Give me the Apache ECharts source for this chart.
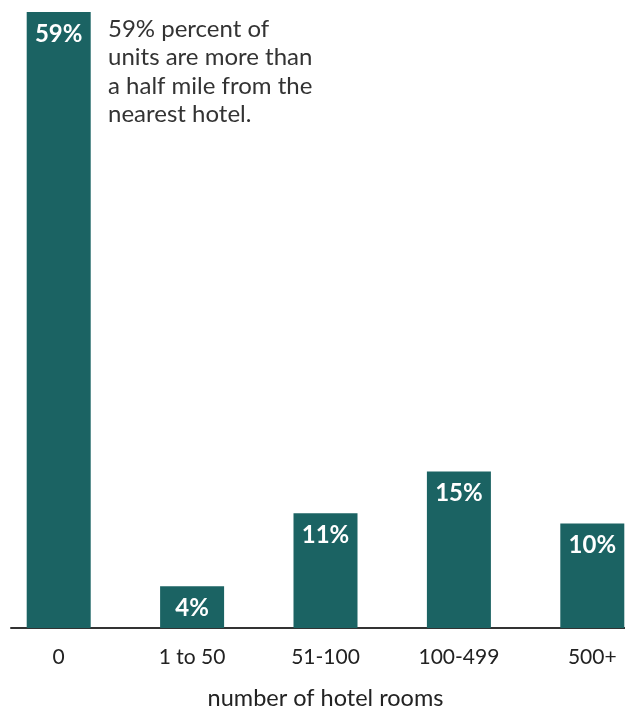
<!DOCTYPE html>
<html><head><meta charset="utf-8">
<script src="https://cdn.jsdelivr.net/npm/echarts@6/dist/echarts.min.js"></script>
<style>html,body{margin:0;padding:0;background:#fff;overflow:hidden;width:625px;height:708px}#c{position:absolute;left:-8px;top:0;width:667px;height:708px}</style>
</head><body><div id="c"></div>
<script>
const categories = ['0', '1 to 50', '51-100', '100-499', '500+'];
const shares = [59, 4, 11, 15, 10];
const axisTitle = 'number of hotel rooms';
const noteLines = ['59% percent of', 'units are more than', 'a half mile from the', 'nearest hotel.'];

const chart = echarts.init(document.getElementById('c'));
chart.setOption({
  animation: false,
  grid: [
    {left: 0, right: 0, top: 12, bottom: 80, containLabel: false, outerBoundsMode: 'none'},
    {left: 19, right: 34, top: 12, bottom: 80, containLabel: false, outerBoundsMode: 'none'}
  ],
  xAxis: [
    {type: 'category', data: categories, gridIndex: 0,
     axisLine: {show: false}, axisTick: {show: false},
     axisLabel: {color: '#222', fontFamily: 'Lato', fontSize: 21, margin: 19},
     name: axisTitle, nameLocation: 'middle', nameGap: 58,
     nameTextStyle: {color: '#222', fontFamily: 'Lato', fontSize: 23.5}},
    {type: 'value', gridIndex: 1, min: 0, max: 1,
     axisLine: {show: true, lineStyle: {color: '#333', width: 2}},
     axisTick: {show: false}, axisLabel: {show: false}, splitLine: {show: false}}
  ],
  yAxis: [
    {type: 'value', gridIndex: 0, min: 0, max: 59, show: false},
    {type: 'value', gridIndex: 1, min: 0, max: 1, show: false}
  ],
  series: [{
    type: 'bar', data: shares, barWidth: 64,
    itemStyle: {color: '#1b6363'},
    label: {show: true, position: 'insideTop', distance: 10,
      formatter: '{c}%', color: '#fff', fontFamily: 'Lato', fontWeight: 'bold', fontSize: 24}
  }],
  graphic: [{
    type: 'text', left: 116, top: 15,
    style: {text: noteLines.join('\n'), fill: '#333', font: '24px Lato', lineHeight: 28.5}
  }]
});
</script></body></html>
